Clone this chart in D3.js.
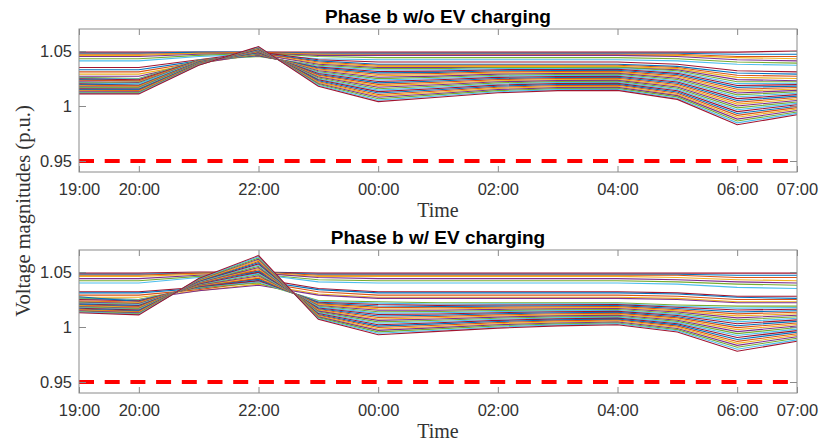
<!DOCTYPE html>
<html>
<head>
<meta charset="utf-8">
<script src="https://cdn.jsdelivr.net/npm/d3@7/dist/d3.min.js"></script>
<style>
  body { margin: 0; background: #fff; }
  .tick text { font-family: "Liberation Sans", Arial, sans-serif; font-size: 16.5px; fill: #333; }
</style>
</head>
<body>
<div id="chart"></div>
<script>
// hourly samples, 19:00 -> 07:00
var timeLabels = ["19:00","20:00","21:00","22:00","23:00","00:00","01:00","02:00","03:00","04:00","05:00","06:00","07:00"];
var xTickLabels = ["19:00","20:00","22:00","00:00","02:00","04:00","06:00","07:00"];
var yTickValues = [0.95, 1, 1.05];
var voltageLimit = 0.95;

// ---- Phase b w/o EV charging ----
// buses close to the substation
var noEvUpper = [
  [1.049,1.049,1.049,1.049,1.049,1.049,1.049,1.049,1.049,1.049,1.049,1.049,1.050],
  [1.048,1.048,1.049,1.049,1.048,1.048,1.048,1.048,1.048,1.048,1.048,1.047,1.047],
  [1.047,1.047,1.048,1.049,1.047,1.047,1.047,1.047,1.047,1.047,1.047,1.045,1.045],
  [1.046,1.046,1.048,1.048,1.047,1.046,1.046,1.046,1.046,1.046,1.046,1.044,1.043],
  [1.045,1.045,1.047,1.048,1.046,1.046,1.046,1.046,1.046,1.046,1.045,1.042,1.041],
  [1.043,1.043,1.046,1.048,1.045,1.044,1.044,1.044,1.044,1.044,1.043,1.040,1.039],
  [1.041,1.041,1.045,1.047,1.043,1.042,1.042,1.042,1.042,1.042,1.041,1.038,1.037]
];
// middle buses
var noEvMiddle = [
  [1.035,1.035,1.042,1.049,1.042,1.040,1.040,1.040,1.040,1.040,1.038,1.032,1.031],
  [1.033,1.033,1.041,1.048,1.041,1.038,1.038,1.038,1.038,1.038,1.036,1.030,1.029],
  [1.031,1.031,1.040,1.048,1.040,1.037,1.037,1.037,1.037,1.037,1.035,1.028,1.027],
  [1.029,1.029,1.039,1.047,1.039,1.036,1.036,1.036,1.036,1.036,1.034,1.026,1.025],
  [1.027,1.027,1.039,1.047,1.038,1.035,1.035,1.035,1.035,1.035,1.033,1.024,1.023]
];
// far end of the feeder
var noEvLower = [
  [1.0260,1.0250,1.0420,1.0450,1.0370,1.0340,1.0340,1.0350,1.0350,1.0352,1.0320,1.0220,1.0220],
  [1.0253,1.0244,1.0418,1.0454,1.0362,1.0327,1.0329,1.0340,1.0341,1.0343,1.0309,1.0203,1.0207],
  [1.0247,1.0238,1.0416,1.0458,1.0353,1.0314,1.0317,1.0330,1.0332,1.0334,1.0297,1.0186,1.0194],
  [1.0240,1.0226,1.0414,1.0462,1.0345,1.0301,1.0306,1.0320,1.0323,1.0325,1.0286,1.0169,1.0181],
  [1.0234,1.0229,1.0411,1.0466,1.0337,1.0288,1.0295,1.0310,1.0313,1.0315,1.0275,1.0152,1.0168],
  [1.0215,1.0220,1.0409,1.0470,1.0329,1.0275,1.0284,1.0300,1.0304,1.0306,1.0264,1.0135,1.0155],
  [1.0221,1.0213,1.0407,1.0473,1.0320,1.0262,1.0272,1.0290,1.0295,1.0297,1.0252,1.0118,1.0142],
  [1.0214,1.0207,1.0405,1.0477,1.0312,1.0249,1.0261,1.0280,1.0286,1.0288,1.0241,1.0101,1.0129],
  [1.0208,1.0201,1.0403,1.0481,1.0304,1.0236,1.0250,1.0270,1.0277,1.0279,1.0230,1.0084,1.0116],
  [1.0201,1.0188,1.0400,1.0485,1.0296,1.0223,1.0238,1.0260,1.0268,1.0270,1.0218,1.0067,1.0103],
  [1.0195,1.0189,1.0398,1.0489,1.0287,1.0210,1.0227,1.0250,1.0259,1.0261,1.0207,1.0050,1.0090],
  [1.0188,1.0183,1.0396,1.0493,1.0279,1.0197,1.0216,1.0240,1.0250,1.0252,1.0196,1.0034,1.0077],
  [1.0182,1.0177,1.0394,1.0497,1.0271,1.0183,1.0204,1.0230,1.0240,1.0242,1.0184,1.0017,1.0063],
  [1.0175,1.0171,1.0392,1.0501,1.0263,1.0170,1.0193,1.0220,1.0231,1.0233,1.0173,1.0000,1.0050],
  [1.0169,1.0165,1.0390,1.0505,1.0254,1.0157,1.0182,1.0210,1.0222,1.0224,1.0162,0.9983,1.0037],
  [1.0162,1.0159,1.0387,1.0509,1.0246,1.0144,1.0170,1.0200,1.0213,1.0215,1.0150,0.9966,1.0024],
  [1.0156,1.0153,1.0385,1.0513,1.0238,1.0131,1.0159,1.0190,1.0204,1.0206,1.0139,0.9949,1.0011],
  [1.0149,1.0147,1.0383,1.0517,1.0230,1.0118,1.0148,1.0180,1.0195,1.0197,1.0128,0.9932,0.9998],
  [1.0143,1.0140,1.0381,1.0520,1.0221,1.0105,1.0136,1.0170,1.0186,1.0188,1.0116,0.9915,0.9985],
  [1.0136,1.0134,1.0379,1.0524,1.0213,1.0092,1.0125,1.0160,1.0177,1.0179,1.0105,0.9898,0.9972],
  [1.0130,1.0128,1.0377,1.0528,1.0205,1.0079,1.0114,1.0150,1.0167,1.0169,1.0094,0.9881,0.9959],
  [1.0123,1.0122,1.0374,1.0532,1.0197,1.0066,1.0103,1.0140,1.0158,1.0160,1.0083,0.9864,0.9946],
  [1.0117,1.0116,1.0372,1.0536,1.0188,1.0053,1.0091,1.0130,1.0149,1.0151,1.0071,0.9847,0.9933],
  [1.0110,1.0110,1.0370,1.0540,1.0180,1.0040,1.0080,1.0120,1.0140,1.0142,1.0060,0.9830,0.9920]
];

// ---- Phase b w/ EV charging ----
var evUpper = [
  [1.049,1.049,1.050,1.050,1.049,1.049,1.049,1.049,1.049,1.049,1.049,1.049,1.049],
  [1.048,1.048,1.049,1.050,1.048,1.048,1.048,1.048,1.048,1.048,1.048,1.047,1.047],
  [1.047,1.047,1.049,1.050,1.047,1.047,1.047,1.047,1.047,1.047,1.047,1.045,1.045],
  [1.046,1.046,1.048,1.049,1.046,1.046,1.046,1.046,1.046,1.046,1.045,1.043,1.042],
  [1.044,1.044,1.047,1.049,1.045,1.044,1.044,1.044,1.044,1.044,1.043,1.041,1.040],
  [1.042,1.042,1.046,1.048,1.043,1.042,1.042,1.042,1.042,1.042,1.041,1.039,1.038],
  [1.040,1.040,1.045,1.048,1.041,1.040,1.040,1.040,1.040,1.040,1.039,1.036,1.035]
];
var evMiddle = [
  [1.032,1.032,1.036,1.044,1.035,1.032,1.032,1.032,1.032,1.032,1.031,1.028,1.028],
  [1.031,1.031,1.035,1.042,1.034,1.031,1.031,1.031,1.031,1.031,1.030,1.027,1.026],
  [1.029,1.029,1.034,1.041,1.032,1.029,1.029,1.029,1.029,1.029,1.028,1.025,1.025],
  [1.027,1.027,1.033,1.039,1.030,1.027,1.027,1.027,1.027,1.027,1.026,1.023,1.023],
  [1.026,1.025,1.033,1.038,1.029,1.026,1.026,1.026,1.026,1.026,1.025,1.022,1.022]
];
var evLower = [
  [1.0260,1.0250,1.0360,1.0400,1.0240,1.0230,1.0220,1.0220,1.0220,1.0220,1.0200,1.0190,1.0190],
  [1.0254,1.0244,1.0363,1.0411,1.0233,1.0217,1.0209,1.0210,1.0211,1.0211,1.0189,1.0172,1.0176],
  [1.0249,1.0238,1.0367,1.0422,1.0225,1.0204,1.0197,1.0200,1.0202,1.0203,1.0179,1.0154,1.0162],
  [1.0275,1.0232,1.0370,1.0433,1.0218,1.0191,1.0186,1.0190,1.0193,1.0194,1.0168,1.0137,1.0148],
  [1.0237,1.0226,1.0374,1.0443,1.0210,1.0178,1.0175,1.0180,1.0183,1.0185,1.0157,1.0119,1.0134],
  [1.0232,1.0220,1.0377,1.0454,1.0203,1.0165,1.0164,1.0170,1.0174,1.0177,1.0147,1.0101,1.0120],
  [1.0226,1.0213,1.0381,1.0465,1.0196,1.0152,1.0152,1.0160,1.0165,1.0168,1.0136,1.0083,1.0107],
  [1.0220,1.0207,1.0384,1.0476,1.0188,1.0139,1.0141,1.0150,1.0156,1.0159,1.0125,1.0065,1.0093],
  [1.0215,1.0201,1.0388,1.0487,1.0181,1.0126,1.0130,1.0140,1.0147,1.0150,1.0115,1.0047,1.0079],
  [1.0209,1.0195,1.0391,1.0498,1.0173,1.0113,1.0118,1.0130,1.0138,1.0142,1.0104,1.0030,1.0065],
  [1.0203,1.0189,1.0395,1.0509,1.0166,1.0100,1.0107,1.0120,1.0129,1.0133,1.0093,1.0012,1.0051],
  [1.0198,1.0183,1.0398,1.0520,1.0159,1.0087,1.0096,1.0110,1.0120,1.0124,1.0083,0.9994,1.0037],
  [1.0192,1.0177,1.0402,1.0530,1.0151,1.0073,1.0084,1.0100,1.0110,1.0116,1.0072,0.9976,1.0023],
  [1.0187,1.0171,1.0405,1.0541,1.0144,1.0060,1.0073,1.0090,1.0101,1.0107,1.0062,0.9958,1.0009],
  [1.0181,1.0165,1.0409,1.0552,1.0136,1.0047,1.0062,1.0080,1.0092,1.0098,1.0051,0.9940,0.9995],
  [1.0175,1.0159,1.0412,1.0563,1.0129,1.0034,1.0050,1.0070,1.0083,1.0090,1.0040,0.9923,0.9981],
  [1.0170,1.0153,1.0416,1.0574,1.0122,1.0021,1.0039,1.0060,1.0074,1.0081,1.0030,0.9905,0.9967],
  [1.0164,1.0147,1.0419,1.0585,1.0114,1.0008,1.0028,1.0050,1.0065,1.0072,1.0019,0.9887,0.9953],
  [1.0158,1.0140,1.0423,1.0596,1.0107,0.9995,1.0016,1.0040,1.0056,1.0063,1.0008,0.9869,0.9939],
  [1.0153,1.0134,1.0426,1.0607,1.0100,0.9982,1.0005,1.0030,1.0047,1.0055,0.9998,0.9851,0.9925],
  [1.0147,1.0128,1.0430,1.0617,1.0092,0.9969,0.9994,1.0020,1.0037,1.0046,0.9987,0.9833,0.9911],
  [1.0141,1.0122,1.0433,1.0628,1.0085,0.9956,0.9983,1.0010,1.0028,1.0037,0.9976,0.9816,0.9897],
  [1.0136,1.0116,1.0437,1.0639,1.0077,0.9943,0.9971,1.0000,1.0019,1.0029,0.9966,0.9798,0.9883],
  [1.0130,1.0110,1.0440,1.0650,1.0070,0.9930,0.9960,0.9990,1.0010,1.0020,0.9955,0.9780,0.9870]
];

// MATLAB default line colours
var lineColors = ["#0072BD","#D95319","#EDB120","#7E2F8E","#77AC30","#4DBEEE","#A2142F"];

var width = 821, height = 445;
var plotLeft = 79, plotRight = 797, plotHeight = 143;

var svg = d3.select("#chart").append("svg")
    .attr("width", width)
    .attr("height", height);

var x = d3.scalePoint().domain(timeLabels).range([plotLeft, plotRight]).padding(0);

function drawPanel(top, title, series) {
    var y = d3.scaleLinear().domain([0.94, 1.07]).range([top + plotHeight, top]);
    var g = svg.append("g");

    var line = d3.line()
        .x(function(d, i) { return x(timeLabels[i]); })
        .y(function(d) { return y(d); });

    // one line per bus
    g.selectAll(".bus")
        .data(series)
      .enter().append("path")
        .attr("class", "bus")
        .attr("d", line)
        .attr("fill", "none")
        .attr("stroke-width", 1.1)
        .attr("stroke", function(d, i) { return lineColors[(i + 6) % lineColors.length]; });

    // voltage limit
    g.append("line")
        .attr("x1", plotLeft).attr("x2", plotRight)
        .attr("y1", y(voltageLimit)).attr("y2", y(voltageLimit))
        .attr("stroke", "#ff0000")
        .attr("stroke-width", 4)
        .attr("stroke-dasharray", "15,10.7");

    // axes (ticks inside, mirrored on top / right)
    g.append("g")
        .attr("transform", "translate(0," + (top + plotHeight) + ")")
        .call(d3.axisBottom(x).tickValues(xTickLabels).tickSizeInner(-6).tickSizeOuter(0).tickPadding(11));
    g.append("g")
        .attr("transform", "translate(0," + top + ")")
        .call(d3.axisTop(x).tickValues(xTickLabels).tickSizeInner(-6).tickSizeOuter(0).tickFormat(""));
    g.append("g")
        .attr("transform", "translate(" + plotLeft + ",0)")
        .call(d3.axisLeft(y).tickValues(yTickValues).tickSizeInner(-7).tickSizeOuter(0).tickPadding(7)
            .tickFormat(function(d) { return d === 1 ? "1" : d3.format(".2f")(d); }));
    g.append("g")
        .attr("transform", "translate(" + plotRight + ",0)")
        .call(d3.axisRight(y).tickValues(yTickValues).tickSizeInner(-7).tickSizeOuter(0).tickFormat(""));

    g.selectAll(".domain").remove();
    g.selectAll(".tick line").attr("stroke", "#8a8a8a");

    g.append("rect")
        .attr("x", plotLeft).attr("y", top)
        .attr("width", plotRight - plotLeft).attr("height", plotHeight)
        .attr("fill", "none")
        .attr("stroke", "#8a8a8a")
        .attr("stroke-width", 1);

    g.append("text")
        .attr("x", (plotLeft + plotRight) / 2)
        .attr("y", top - 6.5)
        .attr("text-anchor", "middle")
        .style("font-family", "'Liberation Sans', Arial, sans-serif")
        .style("font-weight", "bold")
        .style("font-size", "19px")
        .text(title);

    g.append("text")
        .attr("x", (plotLeft + plotRight) / 2)
        .attr("y", top + plotHeight + 44.5)
        .attr("text-anchor", "middle")
        .style("font-family", "'Liberation Serif', 'Times New Roman', serif")
        .style("font-size", "20px")
        .style("fill", "#333")
        .text("Time");
}

drawPanel(29, "Phase b w/o EV charging", noEvUpper.concat(noEvMiddle, noEvLower));
drawPanel(250, "Phase b w/ EV charging", evUpper.concat(evMiddle, evLower));

svg.append("text")
    .attr("transform", "translate(30,211) rotate(-90)")
    .attr("text-anchor", "middle")
    .style("font-family", "'Liberation Serif', 'Times New Roman', serif")
    .style("font-size", "20.5px")
    .style("fill", "#333")
    .text("Voltage magnitudes (p.u.)");
</script>
</body>
</html>
